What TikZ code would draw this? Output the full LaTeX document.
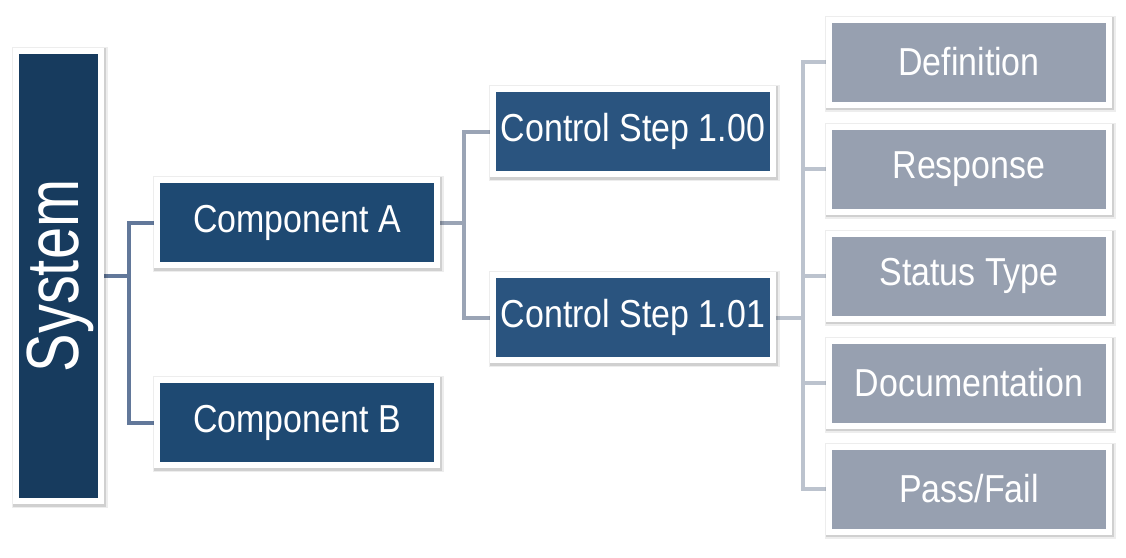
\documentclass[tikz,border=0pt]{standalone}
\usepackage{fontspec}
\newfontfamily\boxfont[FakeStretch=0.87]{Liberation Sans}
\newfontfamily\sysfont[FakeStretch=0.78]{Liberation Sans}
\usetikzlibrary{backgrounds}
\definecolor{sysblue}{HTML}{173B5E}
\definecolor{compblue}{HTML}{1E4972}
\definecolor{ctrlblue}{HTML}{2A547F}
\definecolor{attrgray}{HTML}{97A0B0}
\definecolor{lineA}{HTML}{62789A}
\definecolor{lineB}{HTML}{9AA4B5}
\definecolor{lineC}{HTML}{BCC3CE}
\tikzset{
  softshadow/.style={
    preaction={draw=black, draw opacity=0.07, line width=11pt, transform canvas={xshift=1pt, yshift=-1.5pt}},
    preaction={draw=black, draw opacity=0.12, line width=8.5pt, transform canvas={xshift=1pt, yshift=-1.5pt}}},
  boxbase/.style={rectangle, draw=white, line width=6pt, text=white,
    minimum width=280pt, minimum height=85pt, inner sep=0pt, softshadow,
    font=\boxfont\fontsize{39}{39}\selectfont},
  sysbox/.style={boxbase, fill=sysblue, minimum width=85pt, minimum height=450pt},
  compbox/.style={boxbase, fill=compblue},
  ctrlbox/.style={boxbase, fill=ctrlblue},
  attrbox/.style={boxbase, fill=attrgray},
  conn/.style={line width=4pt}
}
\begin{document}
\begin{tikzpicture}[x=1pt, y=-1pt]
\useasboundingbox (0,0) rectangle (1126,557);
\node[sysbox] (sys) at (58.5,276) {};
\node[rotate=90, text=white, font=\sysfont\fontsize{74}{74}\selectfont, inner sep=0pt] (systext) at (60,276) {System};
\node[compbox] (ca) at (297,222.5) {Component A};
\node[compbox] (cb) at (297,422.5) {Component B};
\node[ctrlbox] (c100) at (633,131.5) {Control Step 1.00};
\node[ctrlbox] (c101) at (633,317.5) {Control Step 1.01};
\node[attrbox] (def) at (969,62) {Definition};
\node[attrbox] (resp) at (969,169) {Response};
\node[attrbox] (stat) at (969,276) {Status Type};
\node[attrbox] (doc) at (969,383) {Documentation};
\node[attrbox] (pf) at (969,489) {Pass/Fail};
\coordinate (jA) at (129,276);
\coordinate (jB) at (464,222.5);
\coordinate (jC) at (803,317.5);
\begin{scope}[on background layer]
\draw[conn, lineA] (sys.east |- jA) -- (jA);
\draw[conn, lineA] (ca.west) -| (jA) |- (cb.west);
\draw[conn, lineB] (ca.east) -- (jB);
\draw[conn, lineB] (c100.west) -| (jB) |- (c101.west);
\draw[conn, lineC] (c101.east) -- (jC);
\draw[conn, lineC] (def.west) -| (jC) |- (pf.west);
\draw[conn, lineC] (resp.west) -- (jC |- resp.west);
\draw[conn, lineC] (stat.west) -- (jC |- stat.west);
\draw[conn, lineC] (doc.west) -- (jC |- doc.west);
\end{scope}
\end{tikzpicture}
\end{document}
